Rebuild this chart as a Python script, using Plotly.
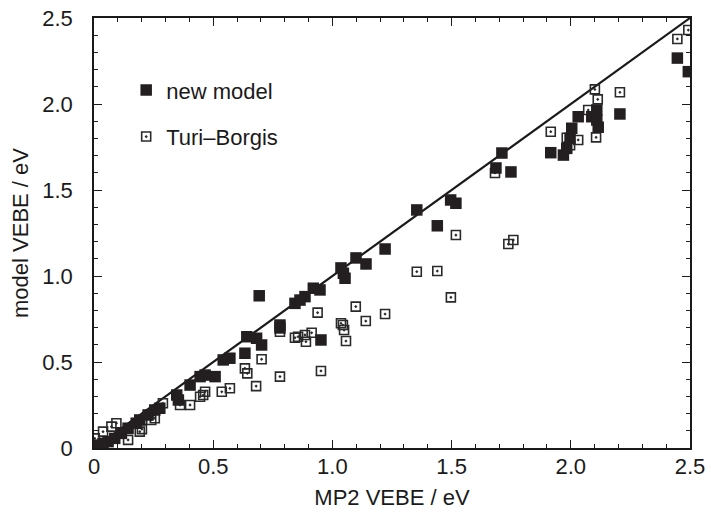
import plotly.graph_objects as go

# MP2 VEBE (x) vs model VEBE (y), eV
new_model_x = [0.003, 0.017, 0.038, 0.059, 0.087, 0.115, 0.143, 0.177, 0.192, 0.227,
               0.255, 0.276, 0.347, 0.354, 0.403, 0.445, 0.466, 0.508, 0.542, 0.570,
               0.633, 0.641, 0.682, 0.703, 0.693, 0.780, 0.780, 0.843, 0.885, 0.920,
               0.948, 0.864, 0.952, 1.046, 1.053, 1.036, 1.099, 1.141, 1.221, 1.354,
               1.440, 1.496, 1.518, 1.686, 1.711, 1.749, 1.916, 1.969, 1.983, 1.997,
               2.004, 2.031, 2.088, 2.109, 2.109, 2.115, 2.206, 2.447, 2.493]
new_model_y = [0.008, 0.017, 0.027, 0.037, 0.056, 0.085, 0.115, 0.144, 0.163, 0.192,
               0.221, 0.231, 0.308, 0.279, 0.366, 0.415, 0.424, 0.415, 0.512, 0.522,
               0.551, 0.647, 0.638, 0.599, 0.885, 0.715, 0.698, 0.841, 0.880, 0.929,
               0.919, 0.860, 0.628, 1.016, 0.987, 1.047, 1.105, 1.070, 1.157, 1.384,
               1.292, 1.442, 1.423, 1.628, 1.715, 1.605, 1.717, 1.703, 1.742, 1.801,
               1.859, 1.926, 1.926, 1.965, 1.907, 1.865, 1.942, 2.267, 2.188]

turi_x = [0.003, 0.013, 0.038, 0.073, 0.094, 0.143, 0.192, 0.201, 0.240, 0.255,
          0.289, 0.361, 0.403, 0.445, 0.458, 0.466, 0.536, 0.570, 0.633, 0.643,
          0.680, 0.703, 0.780, 0.780, 0.843, 0.856, 0.885, 0.889, 0.913, 0.938,
          0.952, 1.036, 1.049, 1.057, 1.044, 1.098, 1.140, 1.221, 1.354, 1.440,
          1.497, 1.518, 1.682, 1.738, 1.759, 1.916, 1.983, 2.031, 2.106, 2.073,
          2.101, 2.113, 2.206, 2.447, 2.493, 1.997]
turi_y = [0.056, 0.012, 0.095, 0.124, 0.144, 0.047, 0.095, 0.110, 0.163, 0.173,
          0.260, 0.250, 0.250, 0.298, 0.308, 0.327, 0.327, 0.347, 0.463, 0.434,
          0.360, 0.516, 0.676, 0.415, 0.641, 0.647, 0.657, 0.618, 0.670, 0.787,
          0.448, 0.725, 0.686, 0.622, 0.715, 0.822, 0.738, 0.779, 1.025, 1.029,
          0.876, 1.238, 1.599, 1.186, 1.209, 1.839, 1.804, 1.791, 1.806, 1.965,
          2.085, 2.027, 2.068, 2.378, 2.430, 1.760]

diag = [0, 2.5]
ticks = [0, 0.5, 1.0, 1.5, 2.0, 2.5]
tick_labels = ["0", "0.5", "1.0", "1.5", "2.0", "2.5"]

FONT = "Liberation Sans, Arial"

fig = go.Figure()

# y = x reference line
fig.add_trace(go.Scatter(x=diag, y=diag, mode="lines",
                         line=dict(color="#1a1a1a", width=2.2), showlegend=False))

fig.add_trace(go.Scatter(
    x=turi_x, y=turi_y, mode="markers", name="Turi\u2013Borgis", legendgroup="b",
    legendrank=2,
    marker=dict(symbol="square-open-dot", size=9, color="#2a2a2a",
                line=dict(width=1.6, color="#2a2a2a"))))

fig.add_trace(go.Scatter(
    x=new_model_x, y=new_model_y, mode="markers", name="new model", legendgroup="a",
    legendrank=1,
    marker=dict(symbol="square", size=11.5, color="#231f20",
                line=dict(width=0))))

axis_common = dict(
    range=[0, 2.5], tickvals=ticks, ticktext=tick_labels, automargin=False,
    ticklabeloverflow="allow",
    ticks="inside", ticklen=8, tickwidth=1, tickcolor="#1a1a1a",
    minor=dict(ticks="inside", dtick=0.1, ticklen=4, tickcolor="#1a1a1a"),
    showline=True, linecolor="#1a1a1a", linewidth=1.5, mirror="allticks",
    showgrid=False, zeroline=False,
    tickfont=dict(family=FONT, size=22, color="#1a1a1a"),
)

fig.update_xaxes(**axis_common, ticklabelstandoff=-2,
                 title=dict(text="MP2 VEBE / eV", standoff=11,
                            font=dict(family=FONT, size=22, color="#1a1a1a")))
fig.update_yaxes(**axis_common, ticklabelstandoff=15,
                 title=dict(text="model VEBE / eV", standoff=8,
                            font=dict(family=FONT, size=22, color="#1a1a1a")))

fig.update_layout(
    width=711, height=523,
    margin=dict(l=94, r=21, t=18, b=75),
    paper_bgcolor="white", plot_bgcolor="white",
    legend=dict(x=0.054, y=0.881, xanchor="left", yanchor="top",
                traceorder="grouped", tracegroupgap=15,
                font=dict(family=FONT, size=22, color="#1a1a1a"),
                bgcolor="rgba(0,0,0,0)"),
)

# drop the browser's default body margin so the figure fills the window
fig.write_html("out.html", config={"displayModeBar": False},
               post_script="document.body.style.margin='0';")
